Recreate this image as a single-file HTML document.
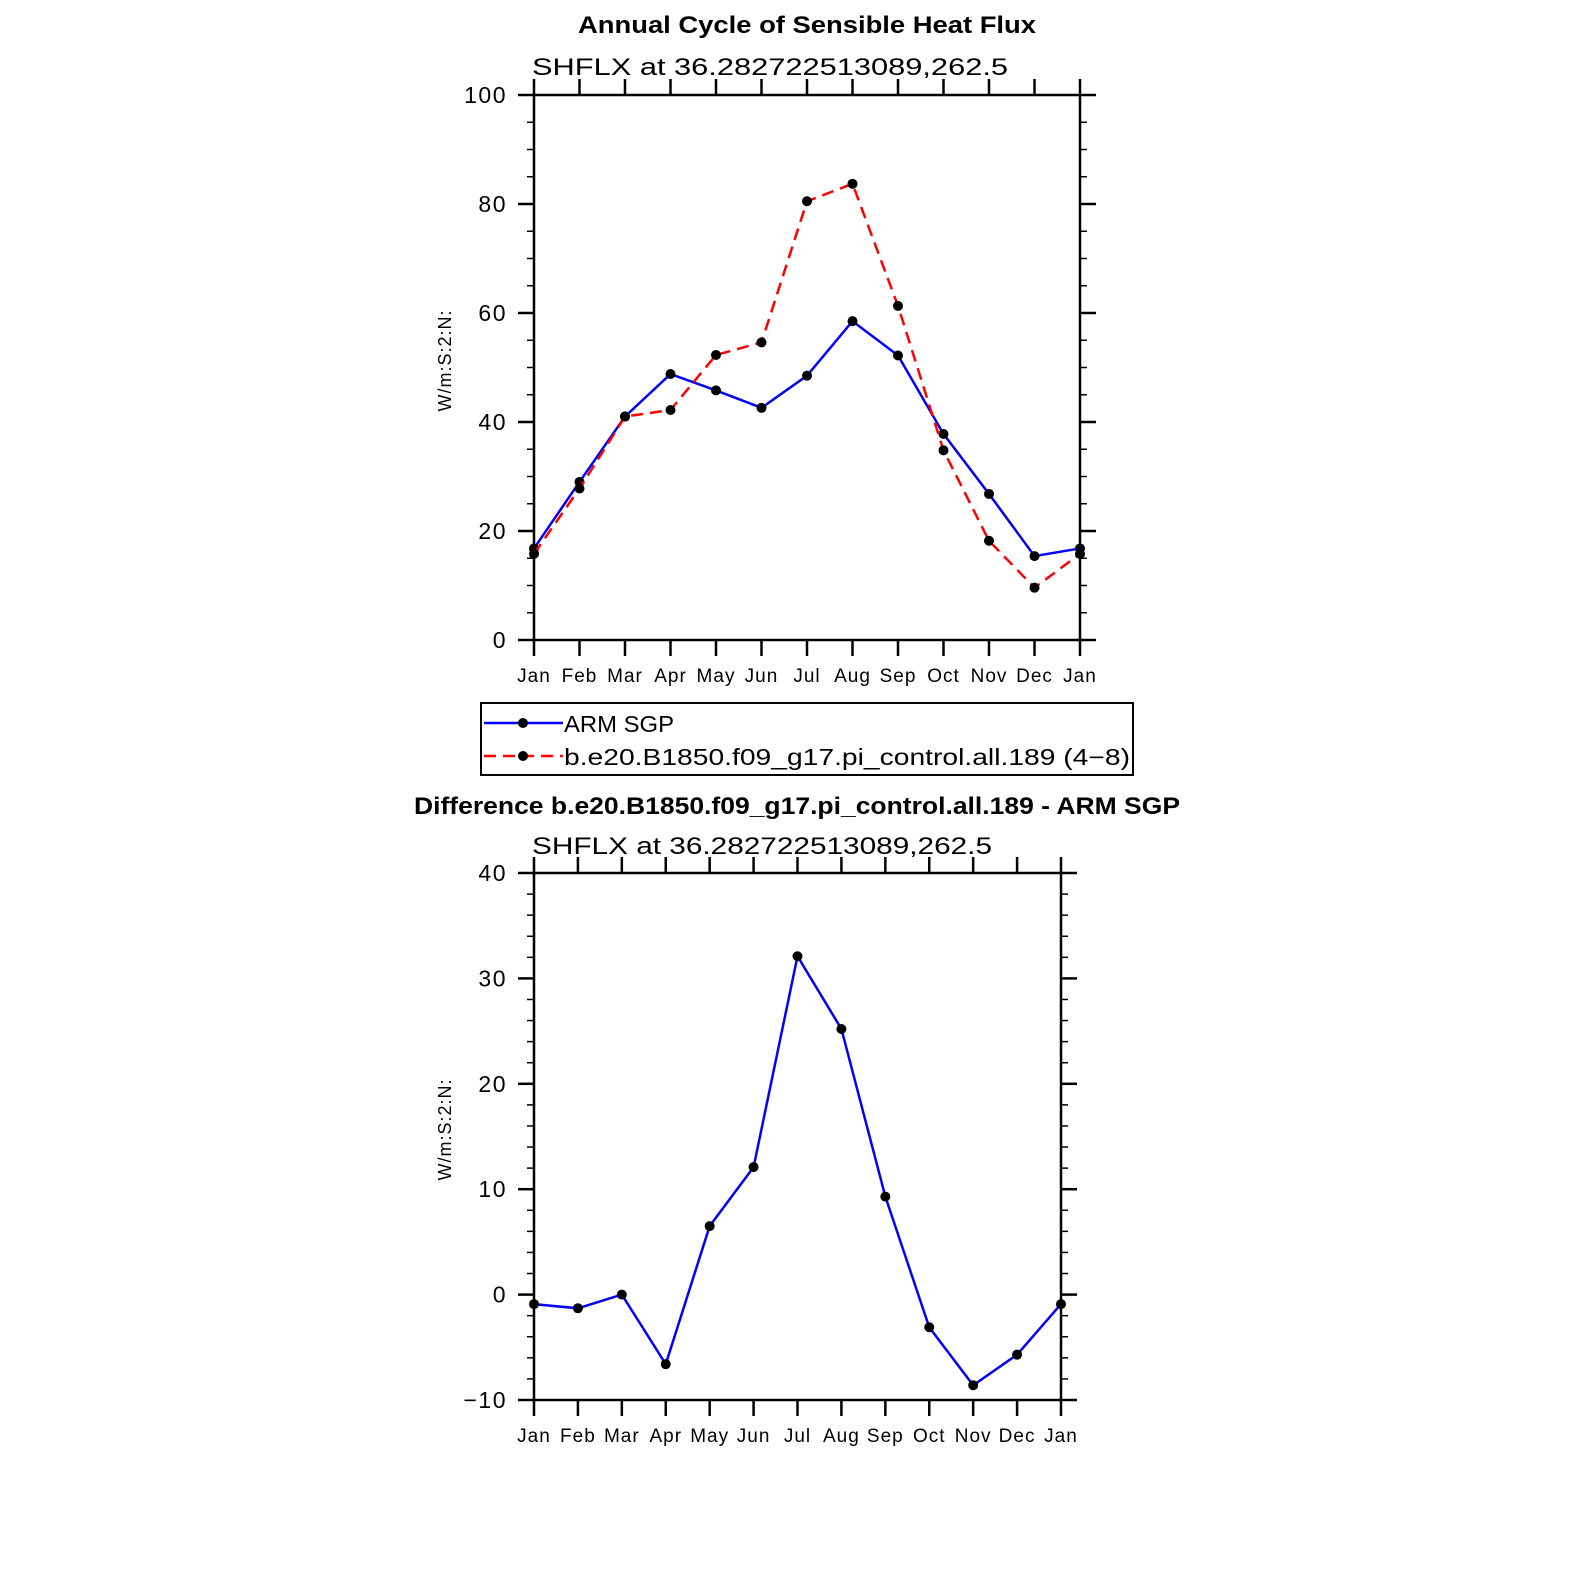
<!DOCTYPE html>
<html><head><meta charset="utf-8"><style>
html,body{margin:0;padding:0;background:#fff;overflow:hidden;width:1574px;height:1574px;}
svg{display:block;font-family:"Liberation Sans","DejaVu Sans",sans-serif;}
</style></head><body>
<svg id="chart" width="1574" height="1574" viewBox="0 0 1574 1574" xmlns="http://www.w3.org/2000/svg">
<rect width="1574" height="1574" fill="#fff"/>
<text x="578" y="33" font-size="24" font-weight="bold" textLength="458" lengthAdjust="spacingAndGlyphs">Annual Cycle of Sensible Heat Flux</text>
<text x="532" y="75" font-size="24" textLength="476" lengthAdjust="spacingAndGlyphs">SHFLX  at  36.282722513089,262.5</text>
<text x="414" y="814" font-size="24" font-weight="bold" textLength="766" lengthAdjust="spacingAndGlyphs">Difference b.e20.B1850.f09_g17.pi_control.all.189 - ARM SGP</text>
<text x="532" y="854" font-size="24" textLength="460" lengthAdjust="spacingAndGlyphs">SHFLX  at  36.282722513089,262.5</text>
<g id="top"></g>
<g id="bot"></g>
<g>
<rect x="481" y="703" width="652" height="72" fill="none" stroke="#000" stroke-width="2"/>
<g>
<line x1="484" y1="723" x2="563" y2="723" stroke="#0000ff" stroke-width="2.5"/>
<circle cx="523" cy="723" r="5" fill="#000"/>
<text x="564" y="732" font-size="23" textLength="110" lengthAdjust="spacingAndGlyphs">ARM  SGP</text></g>
<g>
<line x1="484" y1="756" x2="563" y2="756" stroke="#ff0000" stroke-width="2.5" stroke-dasharray="12,7"/>
<circle cx="523" cy="756" r="5" fill="#000"/>
<text x="564" y="765" font-size="23" textLength="566" lengthAdjust="spacingAndGlyphs">b.e20.B1850.f09_g17.pi_control.all.189  (4−8)</text></g>
</g>
</svg>
<script>
const months = ["Jan","Feb","Mar","Apr","May","Jun","Jul","Aug","Sep","Oct","Nov","Dec","Jan"];
const armValues = [16.8,29.0,41.0,48.8,45.8,42.6,48.5,58.5,52.2,37.8,26.8,15.4,16.8];
const modelValues = [15.8,27.8,41.0,42.2,52.3,54.6,80.5,83.7,61.3,34.8,18.2,9.6,15.8];
const diffValues = [-0.9,-1.3,0.0,-6.6,6.5,12.1,32.1,25.2,9.3,-3.1,-8.6,-5.7,-0.9];
const topYTicks = [0,20,40,60,80,100];
const botYTicks = [-10,0,10,20,30,40];
const NS="http://www.w3.org/2000/svg";
function mk(parent,tag,attrs,text){const e=document.createElementNS(NS,tag);for(const k in attrs)e.setAttribute(k,attrs[k]);if(text!==undefined)e.textContent=text;parent.appendChild(e);return e;}
function drawPlot(g,cfg){
  const {x0,x1,y0,y1,ymin,ymax,ticks,minorStep,series,prefix}=cfg;
  const xs=i=>x0+(x1-x0)*i/(months.length-1);
  const ys=v=>y1-(y1-y0)*(v-ymin)/(ymax-ymin);
  const ax=mk(g,'g',{});
  
  
  mk(ax,'rect',{x:x0,y:y0,width:x1-x0,height:y1-y0,fill:'none',stroke:'#000','stroke-width':2.5});
  for(let v=ymin;v<=ymax+1e-9;v+=minorStep){
    const y=ys(v);const major=ticks.some(t=>Math.abs(t-v)<1e-9);const L=major?16:7;
    mk(ax,'line',{x1:x0-L,y1:y,x2:x0,y2:y,stroke:'#000','stroke-width':major?2.5:1.5});
    mk(ax,'line',{x1:x1,y1:y,x2:x1+L,y2:y,stroke:'#000','stroke-width':major?2.5:1.5});
  }
  ticks.forEach(t=>{
    const tx=mk(ax,'text',{x:x0-27,y:ys(t)+8,'text-anchor':'end','font-size':23,'letter-spacing':'1.5'},t<0?'−'+Math.abs(t):String(t));
    
    
  });
  months.forEach((m,i)=>{
    const x=xs(i);
    mk(ax,'line',{x1:x,y1:y1,x2:x,y2:y1+16,stroke:'#000','stroke-width':2.5});
    mk(ax,'line',{x1:x,y1:y0-16,x2:x,y2:y0,stroke:'#000','stroke-width':2.5});
    const tx=mk(ax,'text',{x:x,y:y1+42,'text-anchor':'middle','font-size':19,'letter-spacing':'1'},m);
    
    
  });
  const yl=mk(ax,'text',{x:0,y:0,'text-anchor':'middle','font-size':18,'letter-spacing':'1',transform:`translate(451,${(y0+y1)/2-7}) rotate(-90)`},'W/m:S:2:N:');
  
  
  series.forEach(s=>{
    const sg=mk(g,'g',{});
    
    
    const pts=s.values.map((v,i)=>xs(i)+','+ys(v)).join(' ');
    const attrs={points:pts,fill:'none',stroke:s.color,'stroke-width':2.5};
    if(s.dash)attrs['stroke-dasharray']=s.dash;
    mk(sg,'polyline',attrs);
    s.values.forEach((v,i)=>{
      const c=mk(sg,'circle',{cx:xs(i),cy:ys(v),r:5,fill:'#000'});
      
      
    });
  });
}
drawPlot(document.getElementById('top'),{x0:534,x1:1080,y0:95,y1:640,ymin:0,ymax:100,ticks:topYTicks,minorStep:5,prefix:'top',
  series:[{name:'arm-sgp-line',values:armValues,color:'#0000ff'},{name:'model-line',values:modelValues,color:'#ff0000',dash:'12,7'}]});
drawPlot(document.getElementById('bot'),{x0:534,x1:1061,y0:873,y1:1400,ymin:-10,ymax:40,ticks:botYTicks,minorStep:2,prefix:'bottom',
  series:[{name:'difference-line',values:diffValues,color:'#0000ff'}]});
</script>
</body></html>
